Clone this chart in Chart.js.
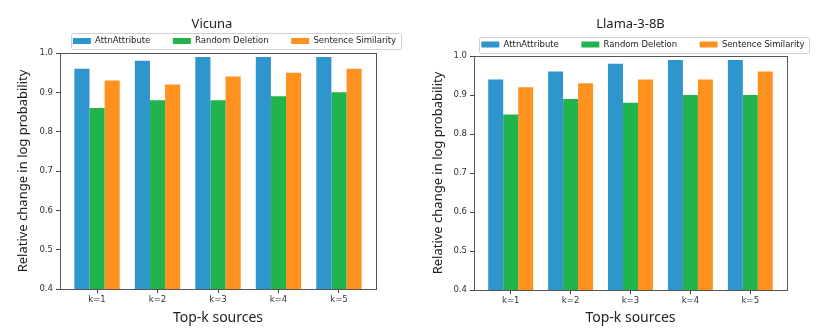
<!DOCTYPE html>
<html>
<head>
<meta charset="utf-8">
<script src="https://cdn.jsdelivr.net/npm/chart.js@4.4.0/dist/chart.umd.min.js"></script>
<style>
  html, body { margin: 0; padding: 0; background: #fff; overflow: hidden; }
  .wrap { position: absolute; top: 0; height: 329px; }
</style>
</head>
<body>
<div class="wrap" style="left:0;width:415px"><canvas id="vicunaChart" width="415" height="329"></canvas></div>
<div class="wrap" style="left:415px;width:416px"><canvas id="llamaChart" width="416" height="329"></canvas></div>
<script>
// data
const categories = ["k=1", "k=2", "k=3", "k=4", "k=5"];
const seriesNames = ["AttnAttribute", "Random Deletion", "Sentence Similarity"];
const seriesColors = ["#2E96CC", "#22B44C", "#FF911E"];

const vicunaAttn = [0.96, 0.98, 0.99, 0.99, 0.99];
const vicunaRandom = [0.86, 0.88, 0.88, 0.89, 0.90];
const vicunaSentence = [0.93, 0.92, 0.94, 0.95, 0.96];

const llamaAttn = [0.94, 0.96, 0.98, 0.99, 0.99];
const llamaRandom = [0.85, 0.89, 0.88, 0.90, 0.90];
const llamaSentence = [0.92, 0.93, 0.94, 0.94, 0.96];

const yMin = 0.4, yMax = 1.0, yStep = 0.1;

// moves title + legend to where they sit in the figure
const placeBlocks = {
  id: "placeBlocks",
  afterLayout(chart, args, opts) {
    const t = chart.titleBlock;
    const dxT = opts.titleX - (t.left + t.right) / 2;
    t.left += dxT; t.right += dxT;
    const lg = chart.legend;
    const pad = lg.options.labels.padding;
    const fs = lg.options.labels.font.size;
    const dx = opts.legendX - (lg.left + lg.right) / 2;
    const dy = opts.legendY - (lg.top + pad + fs / 2);
    lg.left += dx; lg.right += dx;
    lg.top += dy;
    lg.bottom = opts.legendY + 10;
    lg.height = lg.bottom - lg.top;
  },
  afterDraw(chart, args, opts) {
    const ctx = chart.ctx;
    const a = chart.chartArea;
    ctx.save();
    ctx.strokeStyle = "#555";
    ctx.lineWidth = 1;
    ctx.strokeRect(Math.round(a.left) + 0.5, Math.round(a.top) + 0.5,
      Math.round(a.right - a.left), Math.round(a.bottom - a.top));
    // legend frame
    const hb = chart.legend.legendHitBoxes;
    if (hb && hb.length) {
      const l = Math.min(...hb.map(h => h.left)) - 2;
      const r = Math.max(...hb.map(h => h.left + h.width)) + 5;
      const cy = opts.legendY;
      ctx.strokeStyle = "#d0d0d0";
      ctx.beginPath();
      ctx.roundRect(Math.round(l) + 0.5, Math.round(cy - 8) + 0.5, Math.round(r - l), 16, 2);
      ctx.stroke();
    }
    ctx.restore();
  }
};

function makeChart(id, title, values, g) {
  const canvas = document.getElementById(id);
  const W = canvas.width, H = canvas.height;
  const datasets = values.map((vals, s) => ({
    label: seriesNames[s],
    backgroundColor: seriesColors[s],
    borderColor: seriesColors[s],
    borderWidth: 0,
    data: vals.map((v, i) => ({ x: i, y: v })),
    categoryPercentage: 0.75,
    barPercentage: 1.0,
  }));

  return new Chart(canvas.getContext("2d"), {
    type: "bar",
    data: { datasets: datasets },
    options: {
      responsive: false,
      animation: false,
      layout: { padding: { left: 0, right: W - g.right, top: 0, bottom: 0 } },
      plugins: {
        tooltip: { enabled: false },
        title: {
          display: true,
          text: title,
          fullSize: false,
          color: "#222",
          font: { family: "'Noto Sans'", size: 13, weight: "normal", lineHeight: 1.2 },
          padding: { top: g.titleY - 7.8, bottom: 0 },
        },
        legend: {
          display: true,
          maxHeight: g.top - (g.titleY + 7.8),
          labels: {
            boxWidth: 18,
            boxHeight: 6,
            padding: 22.5,
            color: "#222",
            font: { family: "'DejaVu Sans'", size: 8.5 },
          },
        },
        placeBlocks: { titleX: g.titleX, legendX: g.legendX, legendY: g.legendY },
      },
      scales: {
        x: {
          type: "linear",
          offset: false,
          min: -0.6125,
          max: 4.6125,
          afterFit: (s) => { s.height = H - g.bottom; },
          grid: { offset: false, drawOnChartArea: false, drawTicks: true, tickLength: 4, color: "#444" },
          border: { display: false },
          ticks: {
            stepSize: 1,
            includeBounds: false,
            autoSkip: false,
            maxRotation: 0,
            padding: 2,
            color: "#333",
            font: { family: "'DejaVu Sans'", size: 8.5 },
            callback: (v) => (Number.isInteger(v) && categories[v]) ? categories[v] : "",
          },
          title: {
            display: true,
            text: "Top-k sources",
            color: "#222",
            font: { family: "'Noto Sans'", size: 14, lineHeight: 1.2 },
            padding: { top: 0, bottom: 2.5 },
          },
        },
        y: {
          min: yMin,
          max: yMax,
          afterFit: (s) => { s.width = g.left; },
          grid: { drawOnChartArea: false, drawTicks: true, tickLength: 4, color: "#444" },
          border: { display: false },
          ticks: {
            stepSize: yStep,
            padding: 3,
            color: "#333",
            font: { family: "'DejaVu Sans'", size: 8.5 },
            callback: (v) => v.toFixed(1),
          },
          title: {
            display: true,
            text: "Relative change in log probability",
            color: "#222",
            font: { family: "'Noto Sans'", size: 13, lineHeight: 1.2 },
            padding: { top: 15.5, bottom: 0 },
          },
        },
      },
    },
    plugins: [placeBlocks],
  });
}

const vicunaChart = makeChart("vicunaChart", "Vicuna",
  [vicunaAttn, vicunaRandom, vicunaSentence],
  { left: 60, right: 376, top: 53, bottom: 289, titleX: 212, titleY: 24, legendX: 234.5, legendY: 41 });

const llamaChart = makeChart("llamaChart", "Llama-3-8B",
  [llamaAttn, llamaRandom, llamaSentence],
  { left: 59, right: 372, top: 56, bottom: 290, titleX: 215.5, titleY: 24.5, legendX: 228, legendY: 44.5 });
</script>
</body>
</html>
